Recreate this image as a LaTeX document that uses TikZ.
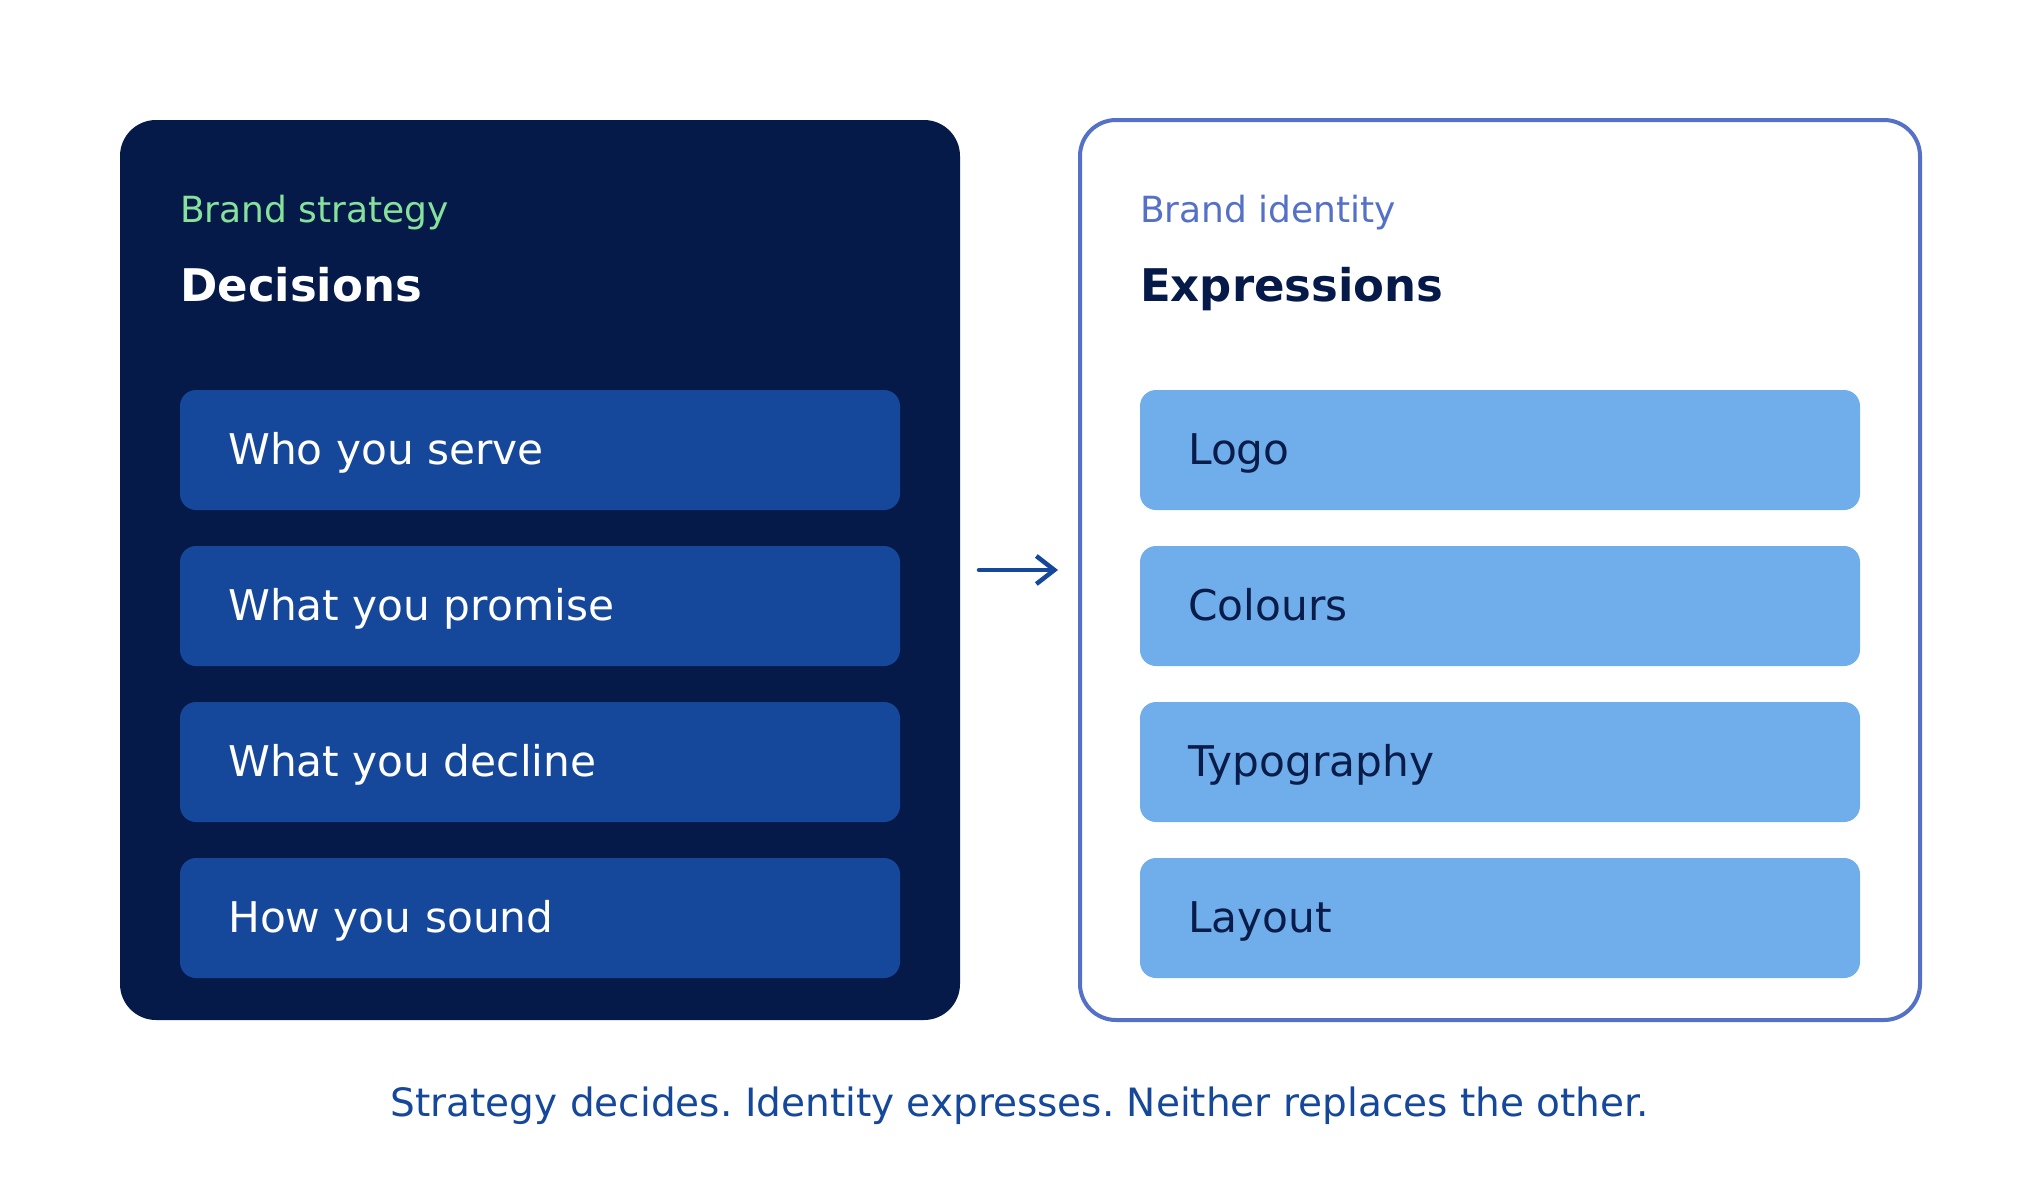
\documentclass[tikz,border=0pt]{standalone}
\usepackage{fontspec}
\setmainfont{DejaVu Sans}
\frenchspacing
\usetikzlibrary{arrows.meta}
\definecolor{navy}{RGB}{6,26,74}
\definecolor{midblue}{RGB}{21,71,155}
\definecolor{lightblue}{RGB}{111,174,234}
\definecolor{mint}{RGB}{134,226,155}
\definecolor{strokeblue}{RGB}{84,113,199}
\definecolor{inknavy}{RGB}{10,28,74}
\begin{document}
\begin{tikzpicture}[x=1pt,y=-1pt,
  panel/.style={rectangle, rounded corners=36pt, minimum width=840pt, minimum height=900pt, inner sep=0pt, outer sep=0pt, anchor=north west},
  itembox/.style={rectangle, rounded corners=16pt, minimum width=720pt, minimum height=120pt, inner sep=0pt, outer sep=0pt, anchor=north west},
  kicker/.style={anchor=base west, inner sep=0pt, font=\fontsize{36}{43}\selectfont},
  heading/.style={anchor=base west, inner sep=0pt, font=\bfseries\fontsize{45}{54}\selectfont},
  itemtext/.style={anchor=base west, inner sep=0pt, font=\fontsize{42.3}{50}\selectfont},
  flow/.style={line width=4.5pt, draw=midblue, line cap=round, line join=round, -{Straight Barb[length=18pt,width=28pt,line width=4.5pt]}}
]
\useasboundingbox (0,0) rectangle (2040,1200);
\fill[white] (0,0) rectangle (2040,1200);

% left panel
\node[panel, fill=navy] (leftbox) at (120,120) {};
\node[kicker, text=mint] (lkick) at (180,222) {Brand strategy};
\node[heading, text=white] (lhead) at (180,301) {Decisions};
\foreach \i/\t in {0/Who you serve,1/What you promise,2/What you decline,3/How you sound}{
  \node[itembox, fill=midblue] (lb\i) at (180,390+156*\i) {};
  \node[itemtext, text=white] (lt\i) at (228,464+156*\i) {\t};
}

% right panel
\node[panel, draw=strokeblue, line width=4pt, fill=white] (rightbox) at (1080,120) {};
\node[kicker, text=strokeblue] (rkick) at (1140,222) {Brand identity};
\node[heading, text=navy] (rhead) at (1140,301) {Expressions};
\foreach \i/\t in {0/Logo,1/Colours,2/Typography,3/Layout}{
  \node[itembox, fill=lightblue] (rb\i) at (1140,390+156*\i) {};
  \node[itemtext, text=inknavy] (rt\i) at (1188,464+156*\i) {\t};
}

% arrow
\draw[flow, shorten <=19pt, shorten >=22pt] (leftbox.east) -- (rightbox.west);

% caption
\node[anchor=base, inner sep=0pt, text=midblue, font=\fontsize{39}{47}\selectfont] (cap) at (1020,1116) {Strategy decides. Identity expresses. Neither replaces the other.};
\end{tikzpicture}
\end{document}
